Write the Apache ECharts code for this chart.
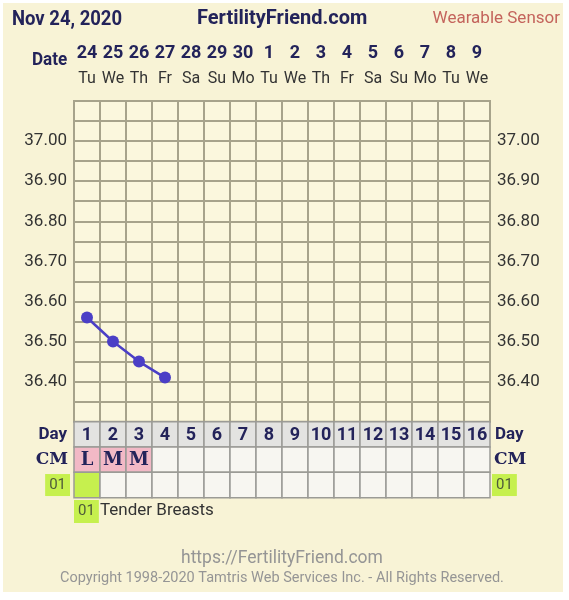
<!DOCTYPE html>
<html>
<head>
<meta charset="utf-8">
<script src="https://cdn.jsdelivr.net/npm/echarts@6/dist/echarts.min.js"></script>
<style>
  html, body { margin: 0; padding: 0; background: #fff; }
  #chart { width: 569px; height: 600px; }
</style>
</head>
<body>
<div id="chart"></div>
<script>
  // chart data
  const dates = ['24', '25', '26', '27', '28', '29', '30', '1', '2', '3', '4', '5', '6', '7', '8', '9'];
  const weekdays = ['Tu', 'We', 'Th', 'Fr', 'Sa', 'Su', 'Mo', 'Tu', 'We', 'Th', 'Fr', 'Sa', 'Su', 'Mo', 'Tu', 'We'];
  const cycleDays = ['1', '2', '3', '4', '5', '6', '7', '8', '9', '10', '11', '12', '13', '14', '15', '16'];
  const temps = [36.56, 36.50, 36.45, 36.41];
  const tempTicks = ['36.40', '36.50', '36.60', '36.70', '36.80', '36.90', '37.00'];
  const cmValues = ['L', 'M', 'M'];
  const symptomCode = '01';
  const symptomName = 'Tender Breasts';
  const symptomDays = ['1'];
  const tableRows = ['Day', 'CM', symptomCode];

  const navy = '#23235a';
  const gridLine = '#a7a38b';
  const slab = '"DejaVu Serif"';

  // cells of the table under the chart
  let cells = [];
  cycleDays.forEach((d, i) => {
    cells.push({ value: [i, 0], text: d, fill: '#e3e3e1', font: 'bold 18px Roboto' });
    cells.push({ value: [i, 1], text: cmValues[i] || '', fill: cmValues[i] ? '#f2b9c6' : '#f7f6f1', font: 'bold 18px ' + slab });
    cells.push({ value: [i, 2], text: '', fill: symptomDays.includes(d) ? '#c6f04e' : '#f7f6f1', font: '14px Roboto' });
  });

  const rowRich = {
    day: { fontSize: 17, fontWeight: 'bold', fontFamily: 'Roboto', color: navy, padding: [0, 3, 0, 3] },
    cm: { fontSize: 17, fontWeight: 'bold', fontFamily: slab, color: navy, padding: [0, 2, 0, 2] },
    code: { fontSize: 15, fontFamily: 'Roboto', color: '#4e5a3a', backgroundColor: '#c6f04e', padding: [4, 4, 3, 4] }
  };
  const rowLabel = (val, idx) => '{' + ['day', 'cm', 'code'][idx] + '|' + val + '}';

  const myChart = echarts.init(document.getElementById('chart'));
  let option = {
    animation: false,
    graphic: [
      { type: 'rect', z: -100, silent: true, shape: { x: 3, y: 3, width: 560, height: 589 }, style: { fill: '#f8f3d6' } },
      { type: 'text', x: 12, y: 9, scaleX: 0.88, style: { text: 'Nov 24, 2020', font: 'bold 21px Roboto', fill: navy } },
      { type: 'text', left: 197, top: 9, style: { text: 'FertilityFriend.com', font: 'bold 20px Roboto', fill: navy } },
      { type: 'text', right: 9, top: 10, style: { text: 'Wearable Sensor', font: '17px Roboto', fill: '#c4645c' } },
      { type: 'text', x: 32, y: 51, scaleX: 0.9, style: { text: 'Date', font: 'bold 19px Roboto', fill: navy } },
      { type: 'text', left: 74, top: 500, style: { text: symptomCode, font: '15px Roboto', fill: '#4e5a3a', backgroundColor: '#c6f04e', padding: [4, 4, 4, 4] } },
      { type: 'text', left: 100, top: 502, style: { text: symptomName, font: '17px Roboto', fill: '#333' } },
      { type: 'text', left: 181, top: 550, style: { text: 'https://FertilityFriend.com', font: '17.5px Roboto', fill: '#959595' } },
      { type: 'text', left: 60, top: 571, style: { text: 'Copyright 1998-2020 Tamtris Web Services Inc. - All Rights Reserved.', font: '14.5px Roboto', fill: '#959595' } }
    ],
    grid: [
      { left: 74, top: 101, width: 416, height: 320.7, show: true, backgroundColor: '#fbf7dd', borderColor: gridLine, borderWidth: 2 },
      { left: 74, top: 421.7, width: 416, height: 76 }
    ],
    xAxis: [
      {
        type: 'category',
        gridIndex: 0,
        position: 'top',
        data: dates,
        axisLine: { show: false },
        axisTick: { show: false },
        splitLine: { show: true, interval: 0, lineStyle: { color: gridLine, width: 2 } },
        axisLabel: {
          interval: 0,
          margin: 10,
          formatter: (val, idx) => '{d|' + val + '}\n{w|' + weekdays[idx] + '}',
          rich: {
            d: { fontSize: 18, fontWeight: 'bold', fontFamily: 'Roboto', color: navy, lineHeight: 26 },
            w: { fontSize: 16, fontFamily: 'Roboto', color: '#333', lineHeight: 25 }
          }
        }
      },
      {
        type: 'category',
        gridIndex: 1,
        data: cycleDays,
        show: false
      }
    ],
    yAxis: [
      {
        type: 'value',
        gridIndex: 0,
        min: 36.30,
        max: 37.10,
        interval: 0.05,
        axisLine: { show: false },
        axisTick: { show: false },
        splitLine: { show: true, lineStyle: { color: gridLine, width: 2 } },
        axisLabel: {
          margin: 7,
          color: '#333',
          fontSize: 17,
          fontFamily: 'Roboto',
          formatter: (v) => tempTicks.includes(v.toFixed(2)) ? v.toFixed(2) : ''
        }
      },
      {
        type: 'value',
        gridIndex: 0,
        position: 'right',
        min: 36.30,
        max: 37.10,
        interval: 0.05,
        axisLine: { show: false },
        axisTick: { show: false },
        splitLine: { show: false },
        axisLabel: {
          margin: 7,
          color: '#333',
          fontSize: 17,
          fontFamily: 'Roboto',
          formatter: (v) => tempTicks.includes(v.toFixed(2)) ? v.toFixed(2) : ''
        }
      },
      {
        type: 'category',
        gridIndex: 1,
        inverse: true,
        data: tableRows,
        axisLine: { show: false },
        axisTick: { show: false },
        axisLabel: { margin: 4, formatter: rowLabel, rich: rowRich }
      },
      {
        type: 'category',
        gridIndex: 1,
        position: 'right',
        inverse: true,
        data: tableRows,
        axisLine: { show: false },
        axisTick: { show: false },
        axisLabel: { margin: 2, formatter: rowLabel, rich: rowRich }
      }
    ],
    series: [
      {
        name: 'temp',
        type: 'line',
        xAxisIndex: 0,
        yAxisIndex: 0,
        data: temps,
        symbol: 'circle',
        symbolSize: 12,
        lineStyle: { color: '#4b3fc6', width: 2.5 },
        itemStyle: { color: '#4b3fc6' },
        z: 5
      },
      {
        name: 'table',
        type: 'custom',
        xAxisIndex: 1,
        yAxisIndex: 2,
        data: cells.map(c => c.value),
        renderItem: (params, api) => {
          const c = cells[params.dataIndex];
          const p = api.coord([api.value(0), api.value(1)]);
          const s = api.size([1, 1]);
          return {
            type: 'group',
            children: [
              {
                type: 'rect',
                shape: { x: p[0] - s[0] / 2, y: p[1] - s[1] / 2, width: s[0], height: s[1] },
                style: { fill: c.fill, stroke: '#9b9b96', lineWidth: 1.5 }
              },
              {
                type: 'text',
                style: { text: c.text, x: p[0], y: p[1] + 1, align: 'center', verticalAlign: 'middle', font: c.font, fill: navy }
              }
            ]
          };
        }
      }
    ]
  };
  myChart.setOption(option);
</script>
</body>
</html>
